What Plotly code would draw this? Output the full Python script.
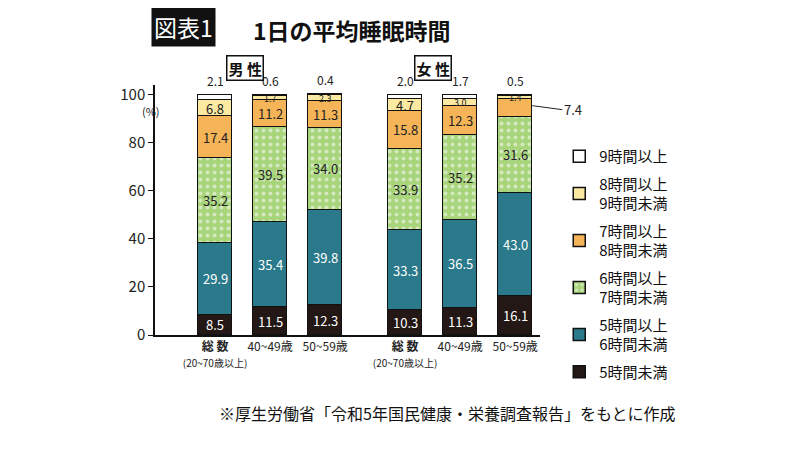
import plotly.graph_objects as go
import numpy as np

# ---- data ----
categories = ["<b>総 数</b><br><span style='font-size:10px'>(20~70歳以上)</span>", "40~49歳", "50~59歳",
              "<b>総 数</b><br><span style='font-size:10px'>(20~70歳以上)</span>", "40~49歳", "50~59歳"]
x_pos = [0, 1, 2, 3.45, 4.45, 5.45]

series_names = ["5時間未満", "5時間以上<br>6時間未満", "6時間以上<br>7時間未満",
                "7時間以上<br>8時間未満", "8時間以上<br>9時間未満", "9時間以上"]
under5 = [8.5, 11.5, 12.3, 10.3, 11.3, 16.1]
h5to6 = [29.9, 35.4, 39.8, 33.3, 36.5, 43.0]
h6to7 = [35.2, 39.5, 34.0, 33.9, 35.2, 31.6]
h7to8 = [17.4, 11.2, 11.3, 15.8, 12.3, 7.4]
h8to9 = [6.8, 1.7, 2.3, 4.7, 3.0, 1.4]
over9 = [2.1, 0.6, 0.4, 2.0, 1.7, 0.5]
y_ticks = [0, 20, 40, 60, 80, 100]

series = [under5, h5to6, h6to7, h7to8, h8to9, over9]
colors = ["#231815", "#2a7a8c", "#a8d47c", "#f5b458", "#fdeaa2", "#ffffff"]
text_colors = ["white", "white", "#222222", "#222222", "#222222", "#222222"]

FONT = "Noto Sans CJK JP"
fig = go.Figure()
for i, (vals, name, col) in enumerate(zip(series, series_names, colors)):
    marker = dict(color=col, line=dict(color="#111111", width=1.5))
    if i == 2:
        marker["pattern"] = dict(shape=".", fgcolor="white", bgcolor=col, size=7, solidity=0.25)
    fig.add_trace(go.Bar(
        x=x_pos, y=vals, name=name, marker=marker, width=0.62,
        legendgroup=f"g{i}", legendrank=100 - i, hoverinfo="skip",
    ))

# value labels
cum = np.zeros(len(x_pos))
annotations = []
for i, vals in enumerate(series):
    vals = np.array(vals)
    mids = cum + vals / 2
    for j, (xp, v, m) in enumerate(zip(x_pos, vals, mids)):
        if i == 5:
            annotations.append(dict(x=xp, y=cum[j] + v, text=f"{v:.1f}", showarrow=False,
                                    yanchor="bottom", yshift=4,
                                    font=dict(size=12, color="#222222", family=FONT)))
        elif i == 4 and v < 4:
            annotations.append(dict(x=xp, y=m, text=f"{v:.1f}", showarrow=False,
                                    font=dict(size=9, color="#222222", family=FONT)))
        elif i == 3 and v < 8:
            annotations.append(dict(x=xp + 0.31, y=m + 1, ax=30, ay=4, text=f"{v:.1f}",
                                    showarrow=True, arrowhead=0, arrowwidth=1, arrowcolor="#222222",
                                    xanchor="left",
                                    font=dict(size=13, color="#222222", family=FONT)))
        else:
            annotations.append(dict(x=xp, y=m, text=f"{v:.1f}", showarrow=False,
                                    font=dict(size=13, color=text_colors[i], family=FONT)))
    cum = cum + vals

# titles and labels
annotations += [
    dict(xref="paper", yref="paper", x=-0.01, y=1.232, xanchor="left", yanchor="middle",
         text="図表1", showarrow=False, bgcolor="#111111", borderpad=2,
         font=dict(size=23, color="white", family=FONT)),
    dict(xref="paper", yref="paper", x=0.25, y=1.22, xanchor="left", yanchor="middle",
         text="<b>1日の平均睡眠時間</b>", showarrow=False,
         font=dict(size=23, color="#111111", family=FONT)),
    dict(xref="x", yref="paper", x=0.55, y=1.12, text="<b>男 性</b>", showarrow=False,
         bordercolor="#111111", borderwidth=1.5, borderpad=1, bgcolor="white",
         font=dict(size=15, color="#111111", family=FONT)),
    dict(xref="x", yref="paper", x=3.95, y=1.12, text="<b>女 性</b>", showarrow=False,
         bordercolor="#111111", borderwidth=1.5, borderpad=1, bgcolor="white",
         font=dict(size=15, color="#111111", family=FONT)),
    dict(xref="paper", yref="y", x=-0.04, y=93, text="(%)", showarrow=False,
         font=dict(size=11, color="#222222", family=FONT)),
    dict(xref="paper", yref="paper", x=0.16, y=-0.255, xanchor="left", yanchor="top",
         text="※厚生労働省「令和5年国民健康・栄養調査報告」をもとに作成", showarrow=False,
         font=dict(size=16, color="#111111", family=FONT)),
]

fig.update_layout(
    width=800, height=449,
    barmode="stack", bargap=0,
    paper_bgcolor="white", plot_bgcolor="white",
    margin=dict(l=147, r=268, t=77, b=122),
    font=dict(family=FONT, color="#222222"),
    annotations=annotations,
    legend=dict(x=1.05, y=0.78, xanchor="left", yanchor="top",
                tracegroupgap=5, maxheight=500,
                font=dict(size=15, color="#111111", family=FONT),
                bgcolor="rgba(0,0,0,0)"),
)
fig.update_xaxes(range=[-1.09, 5.9], tickvals=x_pos, ticktext=categories, tickangle=0,
                 showline=True, linecolor="#111111", linewidth=1.5, ticks="",
                 showgrid=False, zeroline=False,
                 tickfont=dict(size=12, color="#222222", family=FONT))
fig.update_yaxes(range=[0, 104], tickvals=y_ticks, showline=True, linecolor="#111111",
                 linewidth=1.5, ticks="outside", ticklen=5, tickcolor="#111111",
                 showgrid=False, zeroline=False,
                 tickfont=dict(size=15, color="#222222", family=FONT))

fig.write_html("out.html")
